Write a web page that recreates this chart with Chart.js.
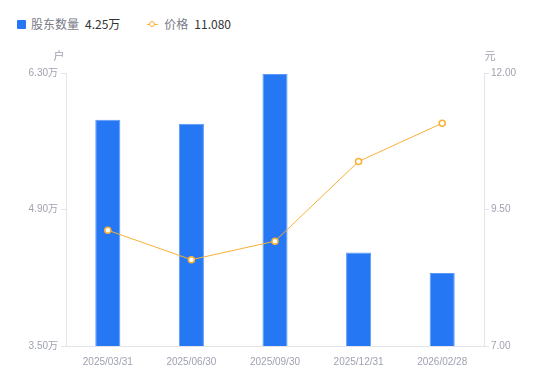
<!DOCTYPE html>
<html>
<head>
<meta charset="utf-8">
<script src="https://cdn.jsdelivr.net/npm/chart.js@4/dist/chart.umd.min.js"></script>
<style>
html,body{margin:0;padding:0;background:#fff;}
body{width:550px;height:381px;position:relative;overflow:hidden;font-family:"Noto Sans CJK SC","Noto Sans",sans-serif;}
#legend{position:absolute;left:17px;top:15px;font-size:12px;line-height:18px;display:flex;align-items:center;white-space:nowrap;}
.item{display:flex;align-items:center;}
.sq{width:9px;height:9px;background:#2577f3;border-radius:1px;margin-right:5px;}
.ln{position:relative;width:11px;height:9px;margin-right:6px;}
.ln:before{content:"";position:absolute;left:0;right:0;top:4px;height:1px;background:#f8b133;}
.ln:after{content:"";position:absolute;left:2px;top:1px;width:4px;height:4px;border:1.5px solid #f8b133;border-radius:50%;background:#fff;}
.name{color:#787b87;}
.val{color:#333;margin-left:6px;}
#wrap{position:absolute;left:0;top:0;width:550px;height:381px;}
</style>
</head>
<body>
<div id="legend">
  <div class="item"><span class="sq"></span><span class="name">股东数量</span><span class="val">4.25万</span></div>
  <div class="item" style="margin-left:27px"><span class="ln"></span><span class="name">价格</span><span class="val">11.080</span></div>
</div>
<div id="wrap"><canvas id="c" width="550" height="381"></canvas></div>
<script>
const categories = ["2025/03/31","2025/06/30","2025/09/30","2025/12/31","2026/02/28"];
const holders = [5.82, 5.78, 6.29, 4.46, 4.25];
const price = [9.12, 8.58, 8.92, 10.38, 11.08];
const leftTicks = [3.5, 4.9, 6.3];
const rightTicks = [7, 9.5, 12];
const leftTitle = "户";
const rightTitle = "元";

const tickColor = "#9fa2b0";
const lineGrey = "#e3e4e8";

const titlePlugin = {
  id: "axisTitles",
  afterDraw(chart) {
    const ctx = chart.ctx, a = chart.chartArea;
    ctx.save();
    ctx.fillStyle = tickColor;
    ctx.font = "11px 'Noto Sans CJK SC'";
    ctx.textBaseline = "middle";
    ctx.textAlign = "center";
    ctx.fillText(leftTitle, a.left - 7, 56);
    ctx.fillText(rightTitle, a.right + 6, 56);
    ctx.restore();
  }
};

new Chart(document.getElementById("c"), {
  data: {
    labels: categories,
    datasets: [
      {
        type: "line", label: "价格", data: price, yAxisID: "y1",
        borderColor: "#f8b133", borderWidth: 1, backgroundColor: "#fff",
        pointBackgroundColor: "#fff", pointBorderColor: "#f8b133",
        pointBorderWidth: 1.5, pointRadius: 3, tension: 0, order: 0
      },
      {
        type: "bar", label: "股东数量", data: holders, yAxisID: "y",
        backgroundColor: "#2577f3", borderColor: "#5b9bf7", borderWidth: {top:1,left:1,right:1,bottom:0},
        barPercentage: 0.3, categoryPercentage: 1, order: 1
      }
    ]
  },
  options: {
    responsive: false,
    animation: false,
    layout: { padding: { top: 73, left: 0, right: 0, bottom: 0 } },
    plugins: { legend: { display: false }, tooltip: { enabled: false } },
    scales: {
      x: {
        grid: { display: false },
        border: { display: true, color: lineGrey },
        ticks: { color: tickColor, font: { size: 10, family: "'Liberation Sans', Arial" }, padding: 2, maxRotation: 0 },
        afterFit(s) { s.height = 35; }
      },
      y: {
        position: "left", min: 3.5, max: 6.3,
        afterBuildTicks(s) { s.ticks = leftTicks.map(v => ({ value: v })); },
        grid: { drawOnChartArea: false, tickLength: 5, color: lineGrey },
        border: { display: true, color: lineGrey },
        ticks: { color: tickColor, font: { size: 10, family: "'Liberation Sans', 'Noto Sans CJK SC'" }, padding: 3,
          callback: v => v.toFixed(2) + "万" },
        afterFit(s) { s.width = 66; }
      },
      y1: {
        position: "right", min: 7, max: 12,
        afterBuildTicks(s) { s.ticks = rightTicks.map(v => ({ value: v })); },
        grid: { drawOnChartArea: false, tickLength: 5, color: lineGrey },
        border: { display: true, color: lineGrey },
        ticks: { color: tickColor, font: { size: 10, family: "'Liberation Sans', Arial" }, padding: 2,
          callback: v => v.toFixed(2) },
        afterFit(s) { s.width = 66; }
      }
    }
  },
  plugins: [titlePlugin]
});
</script>
</body>
</html>
